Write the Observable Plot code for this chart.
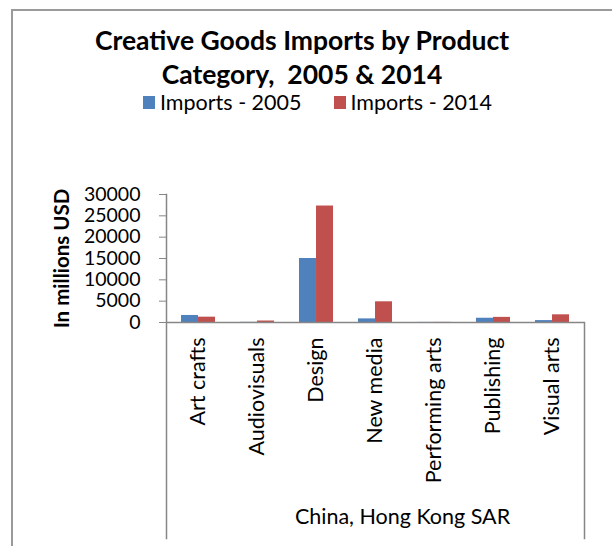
<!DOCTYPE html>
<html><head><meta charset="utf-8">
<script src="https://cdn.jsdelivr.net/npm/d3@7"></script>
<script src="https://cdn.jsdelivr.net/npm/@observablehq/plot@0.6"></script>
<style>
body{margin:0;background:#fff;font-family:Lato, sans-serif;}
#wrap{position:relative;width:612px;height:546px;overflow:hidden;background:#fff}
#border{position:absolute;left:11px;top:9px;width:700px;height:700px;border-left:2px solid #9a9a9a;border-top:2px solid #9a9a9a}
#title{position:absolute;left:0;width:604px;top:23px;text-align:center;font-weight:bold;font-size:26.5px;line-height:34px;white-space:pre;color:#000}
#legend{position:absolute;left:143px;top:92px;height:21px;display:flex;align-items:center;font-size:21.5px;line-height:21px;white-space:pre;color:#000}
.sw{display:inline-block;width:12px;height:13px;margin-right:5px}
.item{display:flex;align-items:center;margin-right:32px}
#chart{position:absolute;left:0;top:120px}
</style></head>
<body>
<div id="wrap">
  <div id="border"></div>
  <div id="title"></div>
  <div id="legend"></div>
  <div id="chart"></div>
</div>
<script>
const titleLines = ["Creative Goods Imports by Product", "Category,  2005 & 2014"];
const categories = ["Art crafts", "Audiovisuals", "Design", "New media", "Performing arts", "Publishing", "Visual arts"];
const seriesNames = ["Imports - 2005", "Imports - 2014"];
const seriesColors = ["#4F81BD", "#C0504D"];
const imports2005 = [1650, 40, 15000, 850, 20, 1000, 450];
const imports2014 = [1250, 350, 27300, 4850, 30, 1200, 1800];
const yTicks = [0, 5000, 10000, 15000, 20000, 25000, 30000];
const yLabel = "In millions USD";
const groupLabel = "China, Hong Kong SAR";

document.getElementById("title").textContent = titleLines.join("\n");
const leg = document.getElementById("legend");
seriesNames.forEach((n, i) => {
  const it = document.createElement("div"); it.className = "item";
  const sw = document.createElement("span"); sw.className = "sw"; sw.style.background = seriesColors[i];
  const tx = document.createElement("span"); tx.textContent = n;
  it.appendChild(sw); it.appendChild(tx); leg.appendChild(it);
});

const rows = [];
categories.forEach((c, i) => {
  rows.push({category: c, series: seriesNames[0], value: imports2005[i]});
  rows.push({category: c, series: seriesNames[1], value: imports2014[i]});
});

const W = 612, H = 426, mL = 166, mR = 28, mT = 74, mB = 224;
const pad = 0.43;
const step = (W - mL - mR) / categories.length;
const half = step * (1 - pad) / 2;
const axisColor = "#868686";

const chart = Plot.plot({
  width: W, height: H,
  marginLeft: mL, marginRight: mR, marginTop: mT, marginBottom: mB,
  style: {fontFamily: "Lato, sans-serif", fontSize: "20px", color: "#000", background: "transparent", overflow: "visible"},
  x: {domain: categories, paddingInner: pad, paddingOuter: pad / 2, label: null},
  y: {domain: [0, 30000], label: null},
  color: {domain: seriesNames, range: seriesColors},
  marks: [
    Plot.barY(rows.filter(d => d.series === seriesNames[0]), {x: "category", y: "value", fill: "series", insetRight: half, insetLeft: 0}),
    Plot.barY(rows.filter(d => d.series === seriesNames[1]), {x: "category", y: "value", fill: "series", insetLeft: half, insetRight: 0}),
    Plot.ruleY([0], {stroke: axisColor, strokeWidth: 1.5}),
    Plot.frame({anchor: "left", stroke: axisColor, strokeWidth: 1.5, insetBottom: -216}),
    Plot.frame({anchor: "right", stroke: axisColor, strokeWidth: 1.5, insetTop: 128, insetBottom: -216}),
    Plot.axisY({ticks: yTicks, tickFormat: d => String(d), tickSize: 7, tickPadding: 19, stroke: axisColor, label: null, fontSize: 19.5}),
    Plot.axisX({tickRotate: -90, tickSize: 0, tickPadding: 15, label: null, fontSize: 21.5}),
    Plot.text([yLabel], {frameAnchor: "left", rotate: -90, dx: -104, textAnchor: "middle", fontWeight: "bold", fontSize: 20.5}),
    Plot.text([groupLabel], {frameAnchor: "bottom", dx: 27, dy: 201, textAnchor: "middle", fontSize: 21.5})
  ]
});
document.getElementById("chart").appendChild(chart);
</script>
</body></html>
